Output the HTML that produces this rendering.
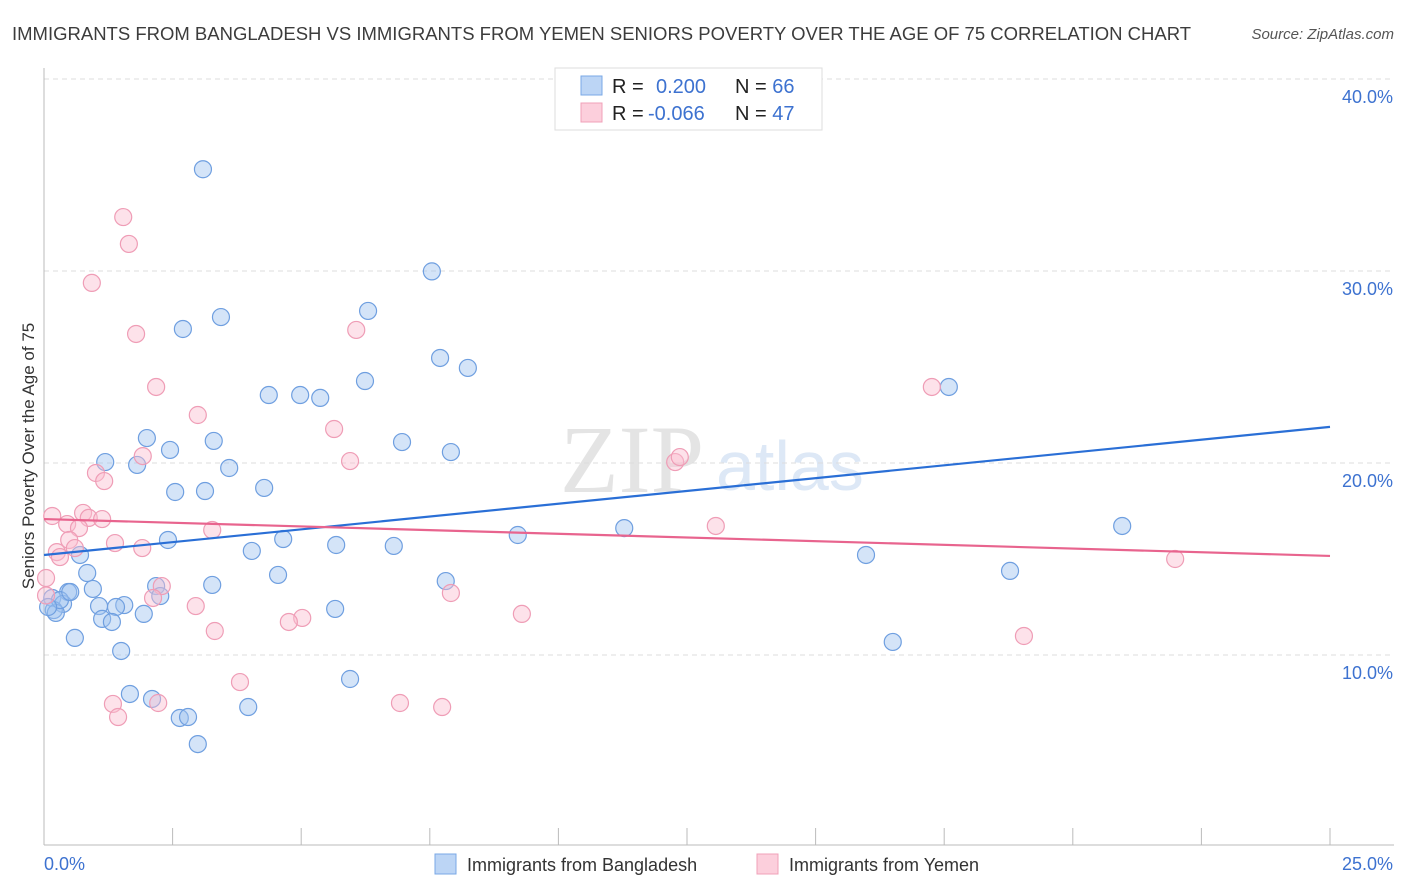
<!DOCTYPE html>
<html><head><meta charset="utf-8"><style>
body{margin:0;background:#fff;font-family:"Liberation Sans",sans-serif;}
svg{display:block}
</style></head><body>
<svg id="chart" width="1406" height="892">
<text x="12" y="40" font-size="18.5" fill="#3c3c3c">IMMIGRANTS FROM BANGLADESH VS IMMIGRANTS FROM YEMEN SENIORS POVERTY OVER THE AGE OF 75 CORRELATION CHART</text>
<text x="1394" y="39" font-size="15" fill="#555" font-style="italic" text-anchor="end">Source: ZipAtlas.com</text>
<text transform="translate(34,456) rotate(-90)" font-size="17" fill="#333" text-anchor="middle">Seniors Poverty Over the Age of 75</text>
<text x="560" y="492" font-size="96" fill="#e4e4e4" font-family="Liberation Serif,serif">ZIP</text>
<text x="716" y="490" font-size="70" fill="#dde8f6">atlas</text>
<g id="grid"></g><g id="axes"></g><g id="pts"></g><g id="lines"></g>
<g>
<rect x="555" y="68" width="267" height="62" fill="#fff" stroke="#ddd"/>
<rect x="581" y="76" width="21" height="19" fill="#bcd5f5" stroke="#7aa8e6"/>
<rect x="581" y="103" width="21" height="19" fill="#fccfdc" stroke="#f0a0b8"/>
<text x="612" y="93" font-size="20" fill="#222">R = <tspan x="656" fill="#3d72d0">0.200</tspan><tspan x="735" fill="#222">N = </tspan><tspan fill="#3d72d0">66</tspan></text>
<text x="612" y="120" font-size="20" fill="#222">R = <tspan x="648" fill="#3d72d0">-0.066</tspan><tspan x="735" fill="#222">N = </tspan><tspan fill="#3d72d0">47</tspan></text>
</g>
<g>
<rect x="435" y="854" width="21" height="20" fill="#bcd5f5" stroke="#7aa8e6"/>
<text x="467" y="871" font-size="18" fill="#333">Immigrants from Bangladesh</text>
<rect x="757" y="854" width="21" height="20" fill="#fccfdc" stroke="#f0a0b8"/>
<text x="789" y="871" font-size="18" fill="#333">Immigrants from Yemen</text>
</g>
</svg>
<script>
const yTicks=[10,20,30,40];
const yTickLabels=["10.0%","20.0%","30.0%","40.0%"];
const xTickLabels=["0.0%","25.0%"];
const blueX=[3.09,7.54,6.30,3.44,2.70,7.70,8.24,6.24,4.37,4.98,5.37,17.59,2.00,3.30,6.96,2.45,7.91,1.19,1.81,3.60,2.55,3.13,4.28,20.96,11.28,9.21,2.41,4.65,5.68,6.80,4.04,0.70,15.98,18.78,0.84,4.55,7.81,3.27,2.18,0.95,0.47,2.26,0.16,1.07,1.56,1.40,0.37,0.19,0.23,5.66,1.94,1.13,1.32,0.60,1.50,16.50,5.95,1.67,2.10,3.97,2.64,2.80,2.99,0.31,0.08,0.51];
const blueY=[35.3,29.98,27.92,27.6,26.98,25.47,24.95,24.27,23.54,23.54,23.39,23.96,21.30,21.15,21.09,20.68,20.57,20.05,19.90,19.74,18.49,18.54,18.70,16.72,16.61,16.25,15.99,16.04,15.73,15.68,15.42,15.21,15.21,14.38,14.27,14.17,13.85,13.65,13.59,13.44,13.28,13.07,12.97,12.55,12.60,12.50,12.66,12.34,12.19,12.40,12.14,11.88,11.72,10.89,10.21,10.68,8.75,7.97,7.71,7.29,6.72,6.77,5.36,12.86,12.50,13.28];
const pinkX=[1.54,1.65,0.93,1.79,6.07,2.18,2.99,5.64,17.26,1.92,5.95,12.27,12.36,1.01,1.17,0.76,0.16,0.45,0.87,1.13,0.68,3.27,13.06,0.49,1.38,1.91,0.60,0.25,0.31,0.04,21.99,2.29,7.91,2.12,2.95,9.29,5.02,4.76,3.32,19.05,3.81,1.34,2.22,6.92,7.74,1.44,0.04];
const pinkY=[32.81,31.41,29.38,26.72,26.93,23.96,22.50,21.77,23.96,20.36,20.10,20.05,20.31,19.48,19.06,17.40,17.24,16.82,17.14,17.08,16.61,16.51,16.72,15.99,15.83,15.57,15.57,15.36,15.10,14.01,15.00,13.59,13.23,12.97,12.55,12.14,11.93,11.72,11.25,10.99,8.59,7.45,7.50,7.50,7.29,6.77,13.1];
const blueTrend=[15.21,21.88];
const pinkTrend=[17.08,15.16];
const NS="http://www.w3.org/2000/svg";
const xs=v=>44+v/25*1286, ys=v=>847-v*19.2;
function mk(tag,attrs,parent){const e=document.createElementNS(NS,tag);for(const k in attrs)e.setAttribute(k,attrs[k]);document.getElementById(parent).appendChild(e);return e;}
yTicks.forEach((t,i)=>{
 const g=mk('line',{x1:44,x2:1394,y1:ys(t),y2:ys(t),stroke:'#ddd','stroke-dasharray':'5,4'},'grid');
 
 
 const l=mk('text',{x:1393,y:ys(t)+24,'font-size':18,fill:'#3d72d0','text-anchor':'end'},'grid');
 l.textContent=yTickLabels[i];
 
 
});
const ax=mk('line',{x1:44,x2:1394,y1:845,y2:845,stroke:'#bbb'},'axes');


const ay=mk('line',{x1:44,x2:44,y1:68,y2:845,stroke:'#bbb'},'axes');


for(let i=1;i<=10;i++){const t=mk('line',{x1:xs(i*2.5),x2:xs(i*2.5),y1:828,y2:845,stroke:'#bbb'},'axes');
 
 }
[[44,'start'],[1393,'end']].forEach((p,i)=>{const t=mk('text',{x:p[0],y:870,'font-size':18,fill:'#3d72d0','text-anchor':p[1]},'axes');t.textContent=xTickLabels[i];
 
 });
blueX.forEach((x,i)=>{const c=mk('circle',{cx:xs(x),cy:ys(blueY[i]),r:8.5,fill:'rgba(160,196,240,0.45)',stroke:'#6f9fe0','stroke-width':1.2},'pts');
 
 });
pinkX.forEach((x,i)=>{const c=mk('circle',{cx:xs(x),cy:ys(pinkY[i]),r:8.5,fill:'rgba(250,190,208,0.45)',stroke:'#ef9db6','stroke-width':1.2},'pts');
 
 });
const bl=mk('line',{x1:xs(0),y1:ys(blueTrend[0]),x2:xs(25),y2:ys(blueTrend[1]),stroke:'#2a6fd6','stroke-width':2.2},'lines');


const pl=mk('line',{x1:xs(0),y1:ys(pinkTrend[0]),x2:xs(25),y2:ys(pinkTrend[1]),stroke:'#e8648e','stroke-width':2.2},'lines');


</script>
</body></html>
